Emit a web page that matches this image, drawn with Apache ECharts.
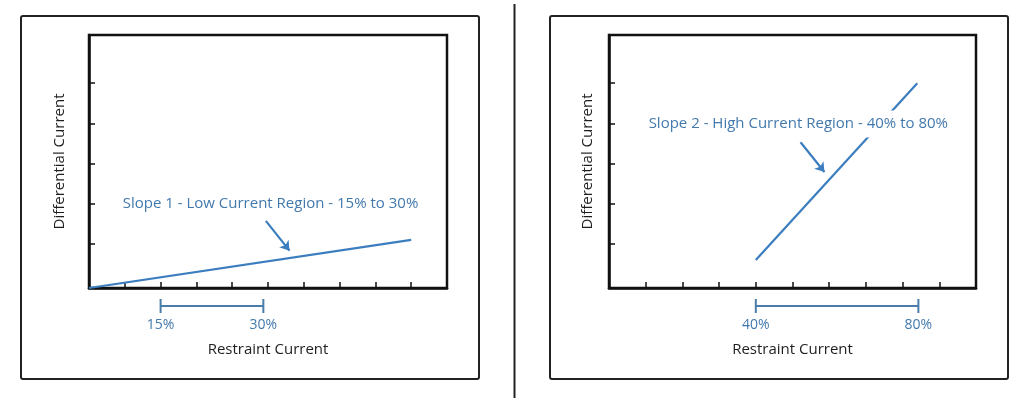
<!DOCTYPE html>
<html>
<head>
<meta charset="utf-8">
<script src="https://cdn.jsdelivr.net/npm/echarts@6/dist/echarts.min.js"></script>
<style>
  html, body { margin: 0; padding: 0; background: #fff; }
  #chart { width: 1024px; height: 398px; }
</style>
</head>
<body>
<div id="chart"></div>
<script>
// restraint axis runs 0..10 with a tick every unit, differential axis 0..6.3
const yTicks = [1.1, 2.1, 3.1, 4.1, 5.1];

// slope 1 (low current region)
const slope1X = [0, 9];
const slope1Y = [0, 1.2];
const range1 = [2, 4.87];
const range1Labels = ["15%", "30%"];
const arrow1 = [[4.94, 1.67], [5.6, 0.93]];
const note1 = "Slope 1 - Low Current Region - 15% to 30%";

// slope 2 (high current region)
const slope2X = [4, 8.4];
const slope2Y = [0.7, 5.1];
const range2 = [4, 8.43];
const range2Labels = ["40%", "80%"];
const arrow2 = [[5.22, 3.63], [5.87, 2.89]];
const note2 = "Slope 2 - High Current Region - 40% to 80%";

const FONT = "Open Sans";
const BLUE = "#3b7dbe";
const TEXT_BLUE = "#4279ad";
const DARK = "#1e1e1e";

const chart = echarts.init(document.getElementById("chart"), null, { renderer: "canvas" });

function xAxis(gridIndex, range, labels) {
  return {
    gridIndex, type: "value", min: 0, max: 10, interval: 1,
    axisLine: { show: true, lineStyle: { color: "#111", width: 2.5 } },
    axisTick: { show: true, inside: true, length: 6, lineStyle: { color: "#111", width: 1.5 } },
    splitLine: { show: false },
    axisLabel: {
      show: true, customValues: range, margin: 30,
      color: TEXT_BLUE, fontFamily: FONT, fontSize: 14,
      formatter: (v) => labels[range.indexOf(v)]
    },
    name: "Restraint Current", nameLocation: "middle", nameGap: 54,
    nameTextStyle: { color: DARK, fontFamily: FONT, fontSize: 15 }
  };
}

function yAxis(gridIndex, gap) {
  return {
    gridIndex, type: "value", min: 0, max: 6.3,
    axisLine: { show: true, lineStyle: { color: "#111", width: 2.5 } },
    axisTick: { show: true, inside: true, length: 6, customValues: yTicks, lineStyle: { color: "#111", width: 1.5 } },
    axisLabel: { show: false },
    splitLine: { show: false },
    name: "Differential Current", nameLocation: "middle", nameGap: gap, nameRotate: 90,
    nameTextStyle: { color: DARK, fontFamily: FONT, fontSize: 15 }
  };
}

function bracket(i, range) {
  return {
    type: "custom", xAxisIndex: i, yAxisIndex: i, z: 3,
    data: [[range[0], range[1]]],
    encode: { x: [0, 1] },
    renderItem(params, api) {
      const a = api.coord([api.value(0), 0]);
      const b = api.coord([api.value(1), 0]);
      const y = a[1] + 18;
      const style = { stroke: "#4a7daa", lineWidth: 2 };
      return {
        type: "group",
        children: [
          { type: "line", shape: { x1: a[0], y1: y, x2: b[0], y2: y }, style },
          { type: "line", shape: { x1: a[0], y1: y - 7, x2: a[0], y2: y + 7 }, style },
          { type: "line", shape: { x1: b[0], y1: y - 7, x2: b[0], y2: y + 7 }, style }
        ]
      };
    }
  };
}

function slope(i, xs, ys, arrow) {
  return {
    type: "line", xAxisIndex: i, yAxisIndex: i, z: 2,
    data: xs.map((x, k) => [x, ys[k]]),
    symbol: "none", clip: false,
    lineStyle: { color: BLUE, width: 2.2 },
    markLine: {
      silent: true, symbol: ["none", "arrow"], symbolSize: 9,
      label: { show: false },
      lineStyle: { color: BLUE, width: 2.2, type: "solid" },
      data: [[{ coord: arrow[0] }, { coord: arrow[1] }]]
    }
  };
}

chart.setOption({
  animation: false,
  backgroundColor: "#fff",
  grid: [
    { left: 89, top: 35, width: 358, height: 253, show: true, borderColor: "#111", borderWidth: 2.5 },
    { left: 609, top: 35, width: 367, height: 253, show: true, borderColor: "#111", borderWidth: 2.5 }
  ],
  xAxis: [xAxis(0, range1, range1Labels), xAxis(1, range2, range2Labels)],
  yAxis: [yAxis(0, 22), yAxis(1, 14)],
  graphic: [
    { type: "rect", shape: { x: 21, y: 16, width: 458, height: 363, r: 2 }, style: { fill: "none", stroke: "#222", lineWidth: 2 }, z: -1 },
    { type: "rect", shape: { x: 550, y: 16, width: 458, height: 363, r: 2 }, style: { fill: "none", stroke: "#222", lineWidth: 2 }, z: -1 },
    { type: "line", shape: { x1: 514.5, y1: 4, x2: 514.5, y2: 398 }, style: { stroke: "#222", lineWidth: 2 } },
    {
      type: "text", x: 270.5, y: 204, z: 10,
      style: { text: note1, fill: TEXT_BLUE, font: "15px '" + FONT + "'", align: "center", verticalAlign: "middle" }
    },
    {
      type: "text", x: 798.3, y: 124, z: 10,
      style: {
        text: note2, fill: TEXT_BLUE, font: "15px '" + FONT + "'", align: "center", verticalAlign: "middle",
        backgroundColor: "#fff", padding: [6, 2]
      }
    }
  ],
  series: [
    slope(0, slope1X, slope1Y, arrow1),
    slope(1, slope2X, slope2Y, arrow2),
    bracket(0, range1),
    bracket(1, range2)
  ]
});
</script>
</body>
</html>
